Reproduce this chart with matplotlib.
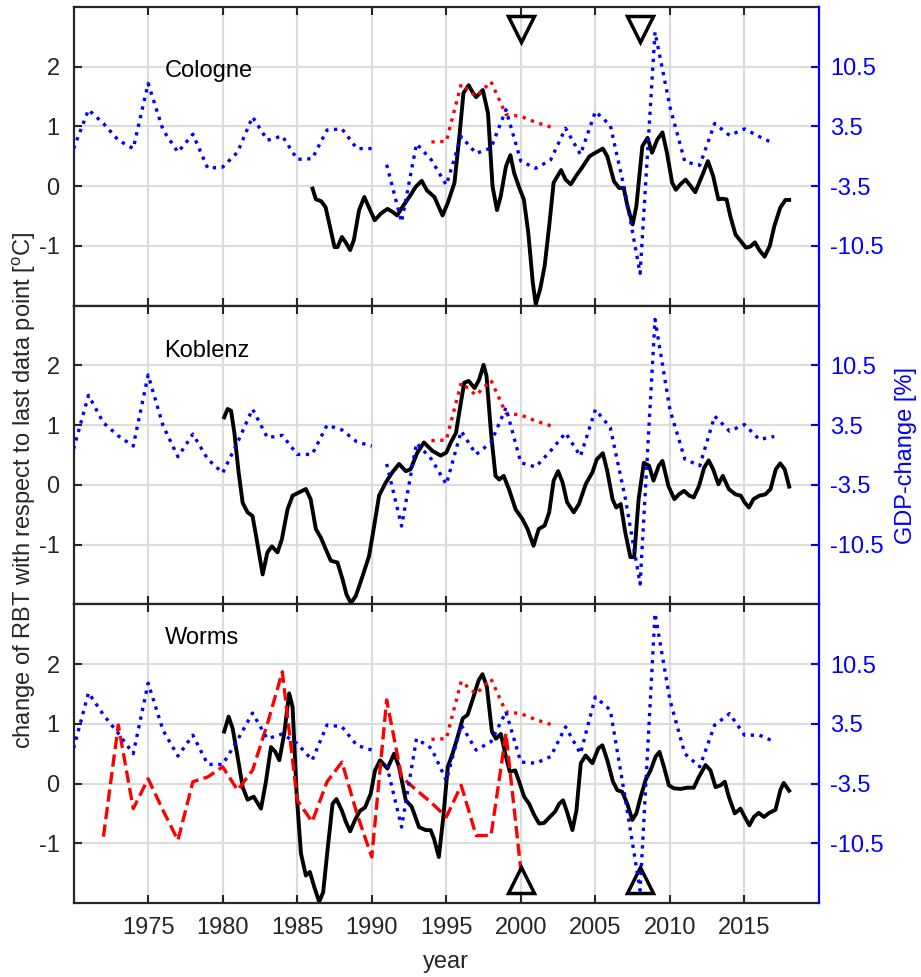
import matplotlib.pyplot as plt
import numpy as np

plt.rcParams['font.family'] = ['Liberation Sans', 'DejaVu Sans']
plt.rcParams['mathtext.default'] = 'regular'
plt.rcParams['axes.unicode_minus'] = False
plt.rcParams['font.size'] = 17

# GDP change [%] per year, right axis (old states until 1990, then unified)
years_west = list(range(1970, 1991))
years_unified = list(range(1991, 2018))

gdp_cologne_west = [0.91, 5.46, 3.85, 1.89, 0.91, 8.54, 3.08, 0.49, 2.59, -1.4, -1.26,
                    0.49, 4.62, 1.89, 2.38, -0.35, -0.28, 3.08, 3.22, 0.91, 0.91]
gdp_cologne_unified = [-0.98, -7.7, 1.47, -0.42, -3.36, 2.31, 0.35, 0.98, 5.46, -0.56,
                       -1.4, -0.42, 3.29, 0.21, 5.25, 3.64, -4.2, -13.72, 14.56, 5.81,
                       -0.63, -1.05, 3.85, 2.45, 3.22, 2.31, 1.47]
gdp_koblenz_west = [0.7, 7.0, 3.78, 2.24, 1.05, 9.38, 3.43, -0.21, 2.45, -0.49, -2.1,
                    1.47, 5.39, 2.03, 2.31, 0.07, 0.07, 3.5, 2.94, 1.54, 1.05]
gdp_koblenz_unified = [-1.05, -8.33, 1.4, -0.49, -3.43, 2.8, 0.07, 1.47, 5.53, -0.91,
                       -1.4, 0.49, 2.59, -0.14, 5.32, 3.22, -5.0, -15.12, 15.89, 5.32,
                       -0.49, -1.26, 4.55, 2.8, 3.57, 1.82, 2.17]
gdp_worms_west = [0.63, 7.14, 4.55, 2.38, 0.0, 8.26, 2.73, -0.28, 2.17, -1.26, -1.26,
                  1.61, 4.76, 1.75, 2.31, 1.19, -0.77, 3.36, 3.15, 0.98, 0.42]
gdp_worms_unified = [-1.33, -8.61, 1.75, 0.63, -3.15, 3.36, 0.42, 1.4, 4.9, -0.98,
                     -1.12, -0.35, 3.15, 0.0, 6.65, 5.11, -5.2, -16.03, 16.45, 6.3,
                     0.0, -1.54, 3.36, 4.69, 2.17, 2.17, 1.4]

# red dotted series (same in all panels)
red_dot_years = list(range(1994, 2003))
red_dot = [0.74, 0.75, 1.71, 1.5, 1.75, 1.2, 1.17, 1.07, 0.99]

# red dashed series, Worms only
red_dash_years = list(range(1972, 2001))
red_dash = [-0.89, 0.98, -0.42, 0.08, -0.45, -0.95, 0.03, 0.11, 0.28, -0.11, 0.22,
            1.0, 1.87, -0.28, -0.64, 0.03, 0.36, -0.5, -1.23, 1.4, 0.11, -0.11,
            -0.32, -0.56, -0.03, -0.87, -0.87, 0.84, -1.45]

# change of RBT [oC], black solid
cologne_t = [1986.03, 1986.25, 1986.6, 1986.9, 1987.2, 1987.5, 1987.7, 1988.0, 1988.3,
             1988.55, 1988.8, 1989.15, 1989.5, 1989.8, 1990.2, 1990.6, 1991.05, 1991.4,
             1991.7, 1992.05, 1992.6, 1992.95, 1993.35, 1993.7, 1994.2, 1994.75, 1995.1,
             1995.55, 1995.9, 1996.15, 1996.5, 1996.75, 1997.0, 1997.45, 1997.8, 1998.1,
             1998.4, 1998.65, 1999.0, 1999.3, 1999.55, 1999.9, 2000.2, 2000.5, 2000.8,
             2001.0, 2001.3, 2001.6, 2001.9, 2002.2, 2002.7, 2003.0, 2003.35, 2003.7,
             2004.1, 2004.6, 2005.0, 2005.5, 2005.8, 2006.25, 2006.6, 2006.9, 2007.15,
             2007.5, 2007.75, 2008.15, 2008.5, 2008.8, 2009.15, 2009.5, 2009.8, 2010.15,
             2010.4, 2010.7, 2011.05, 2011.4, 2011.7, 2012.15, 2012.55, 2012.9, 2013.25,
             2013.5, 2013.8, 2014.05, 2014.4, 2014.75, 2015.1, 2015.4, 2015.7, 2016.0,
             2016.35, 2016.7, 2017.0, 2017.4, 2017.75, 2018.0]
cologne_v = [-0.04, -0.22, -0.25, -0.35, -0.68, -1.02, -1.02, -0.85, -0.96,
             -1.07, -0.9, -0.4, -0.18, -0.35, -0.57, -0.46, -0.38, -0.43,
             -0.49, -0.35, -0.15, -0.01, 0.09, -0.07, -0.18, -0.49, -0.28,
             0.06, 0.89, 1.56, 1.69, 1.58, 1.49, 1.61, 1.22, 0.0,
             -0.4, -0.17, 0.33, 0.52, 0.22, -0.03, -0.22, -0.78, -1.61,
             -1.98, -1.72, -1.33, -0.67, 0.06, 0.27, 0.11, 0.03, 0.17,
             0.31, 0.5, 0.56, 0.63, 0.5, 0.08, -0.03, -0.03, -0.33,
             -0.64, -0.33, 0.67, 0.81, 0.56, 0.78, 0.9, 0.56, 0.06,
             -0.06, 0.03, 0.11, 0.0, -0.1, 0.17, 0.42, 0.17, -0.22,
             -0.21, -0.22, -0.5, -0.81, -0.92, -1.03, -1.01, -0.94, -1.07,
             -1.18, -1.0, -0.67, -0.36, -0.23, -0.23]

koblenz_t = [1980.1, 1980.33, 1980.56, 1980.78, 1981.07, 1981.34, 1981.67, 1982.0, 1982.28,
             1982.68, 1983.0, 1983.3, 1983.68, 1983.97, 1984.35, 1984.69, 1985.09, 1985.58,
             1985.9, 1986.25, 1986.58, 1986.92, 1987.25, 1987.7, 1988.04, 1988.3, 1988.6,
             1988.93, 1989.38, 1989.82, 1990.16, 1990.49, 1990.94, 1991.38, 1991.83, 1992.28,
             1992.6, 1993.06, 1993.5, 1994.06, 1994.62, 1995.0, 1995.3, 1995.65, 1995.9,
             1996.2, 1996.5, 1996.9, 1997.2, 1997.5, 1997.7, 1998.0, 1998.3, 1998.55,
             1998.85, 1999.2, 1999.65, 2000.1, 2000.45, 2000.85, 2001.2, 2001.6, 2001.9,
             2002.2, 2002.5, 2002.8, 2003.1, 2003.55, 2003.9, 2004.35, 2004.8, 2005.1,
             2005.5, 2005.8, 2006.15, 2006.4, 2006.7, 2007.0, 2007.35, 2007.6, 2007.9,
             2008.25, 2008.6, 2008.9, 2009.25, 2009.5, 2009.9, 2010.3, 2010.6, 2010.95,
             2011.3, 2011.6, 2011.95, 2012.3, 2012.6, 2012.9, 2013.25, 2013.55, 2013.95,
             2014.4, 2014.75, 2015.0, 2015.3, 2015.6, 2016.0, 2016.4, 2016.75, 2017.1,
             2017.4, 2017.7, 2018.0]
koblenz_v = [1.13, 1.27, 1.24, 0.88, 0.21, -0.3, -0.46, -0.52, -0.91,
             -1.5, -1.13, -1.03, -1.13, -0.91, -0.41, -0.18, -0.13, -0.07,
             -0.24, -0.74, -0.88, -1.08, -1.27, -1.3, -1.58, -1.83, -1.98,
             -1.86, -1.53, -1.19, -0.69, -0.18, 0.04, 0.21, 0.35, 0.23,
             0.26, 0.54, 0.71, 0.57, 0.49, 0.54, 0.71, 0.87, 1.26,
             1.71, 1.74, 1.62, 1.76, 2.01, 1.82, 0.87, 0.15, 0.09,
             0.15, -0.07, -0.41, -0.57, -0.74, -1.02, -0.74, -0.68, -0.46,
             0.07, 0.23, 0.04, -0.29, -0.46, -0.32, 0.01, 0.21, 0.43,
             0.53, 0.23, -0.24, -0.38, -0.32, -0.79, -1.21, -1.21, -0.24,
             0.37, 0.32, 0.07, 0.32, 0.4, -0.02, -0.24, -0.16, -0.1,
             -0.18, -0.21, -0.02, 0.29, 0.41, 0.26, 0.01, 0.15, -0.07,
             -0.16, -0.18, -0.29, -0.38, -0.24, -0.18, -0.16, -0.07, 0.26,
             0.36, 0.26, -0.03]

worms_t = [1980.1, 1980.4, 1980.67, 1981.0, 1981.34, 1981.67, 1982.08, 1982.57, 1982.9,
           1983.24, 1983.53, 1983.8, 1984.13, 1984.46, 1984.69, 1984.96, 1985.25, 1985.58,
           1985.85, 1986.14, 1986.47, 1986.74, 1987.03, 1987.37, 1987.63, 1987.99, 1988.26,
           1988.55, 1988.88, 1989.2, 1989.55, 1989.93, 1990.22, 1990.56, 1991.05, 1991.5,
           1991.83, 1992.28, 1992.68, 1993.17, 1993.62, 1993.95, 1994.17, 1994.5, 1994.8,
           1995.1, 1995.42, 1995.76, 1996.1, 1996.43, 1996.76, 1997.17, 1997.43, 1997.72,
           1998.06, 1998.33, 1998.66, 1999.0, 1999.26, 1999.62, 1999.89, 2000.22, 2000.56,
           2000.9, 2001.23, 2001.56, 2001.94, 2002.3, 2002.57, 2002.83, 2003.13, 2003.46,
           2003.73, 2004.02, 2004.35, 2004.8, 2005.2, 2005.47, 2005.8, 2006.18, 2006.47,
           2006.8, 2007.14, 2007.48, 2007.75, 2008.04, 2008.37, 2008.7, 2009.04, 2009.3,
           2009.6, 2009.93, 2010.27, 2010.71, 2011.16, 2011.6, 2011.94, 2012.39, 2012.72,
           2013.06, 2013.39, 2013.68, 2013.95, 2014.35, 2014.73, 2015.02, 2015.33, 2015.63,
           2015.96, 2016.3, 2016.67, 2017.08, 2017.41, 2017.63, 2018.0]
worms_v = [0.87, 1.12, 0.92, 0.45, -0.06, -0.27, -0.22, -0.42, 0.03,
           0.61, 0.53, 0.39, 0.84, 1.51, 1.28, -0.17, -1.17, -1.54,
           -1.48, -1.73, -1.98, -1.82, -1.12, -0.34, -0.26, -0.45, -0.64,
           -0.8, -0.61, -0.46, -0.4, -0.17, 0.22, 0.39, 0.25, 0.5,
           0.28, -0.28, -0.39, -0.73, -0.78, -0.78, -0.92, -1.23, -0.56,
           0.28, 0.5, 0.78, 1.09, 1.15, 1.4, 1.73, 1.83, 1.62,
           0.87, 0.75, 0.83, 0.45, 0.2, 0.22, 0.03, -0.22, -0.34,
           -0.53, -0.67, -0.66, -0.56, -0.47, -0.34, -0.28, -0.5, -0.78,
           -0.45, 0.34, 0.47, 0.34, 0.59, 0.64, 0.39, 0.03, -0.11,
           -0.14, -0.34, -0.61, -0.5, -0.22, 0.06, 0.22, 0.45, 0.53,
           0.28, -0.03, -0.08, -0.09, -0.07, -0.07, 0.11, 0.31, 0.22,
           -0.06, -0.03, 0.03, -0.22, -0.5, -0.42, -0.56, -0.7, -0.56,
           -0.49, -0.56, -0.49, -0.44, -0.11, 0.01, -0.12]

event_years = [2000, 2008]

panels = [
    ('Cologne', 1.83, cologne_t, cologne_v, gdp_cologne_west, gdp_cologne_unified),
    ('Koblenz', 2.14, koblenz_t, koblenz_v, gdp_koblenz_west, gdp_koblenz_unified),
    ('Worms', 2.335, worms_t, worms_v, gdp_worms_west, gdp_worms_unified),
]

W, H = 921, 977
fig = plt.figure(figsize=(W / 100, H / 100), dpi=100)

left = 73.6 / W
width = (819 - 73.6) / W
ph = (903 - 7) / 3 / H
bottom0 = 1 - 903 / H

for i, (name, ytxt, t, v, g_west, g_uni) in enumerate(panels):
    ax = fig.add_axes([left, bottom0 + (2 - i) * ph, width, ph])
    ax.set_xlim(1970, 2020)
    ax.set_ylim(-2, 3)
    ax.set_xticks(range(1975, 2020, 5))
    ax.set_yticks([-1, 0, 1, 2])
    ax.grid(True, color='#dcdcdc', lw=1.6)
    ax.set_axisbelow(True)
    ax.tick_params(direction='in', length=6, width=1.5, top=True, right=False,
                   labelsize=17, colors='#262626', pad=10)
    ax.tick_params(axis='y', pad=10)
    if i < 2:
        ax.tick_params(labelbottom=False)
    for s in ['left', 'top', 'bottom']:
        ax.spines[s].set_linewidth(1.6)
        ax.spines[s].set_color('#262626')
    ax.spines['right'].set_visible(False)

    ax.plot(t, v, '-', color='k', lw=2.8, solid_joinstyle='round')
    ax.plot(red_dot_years, red_dot, ':', color='#ff0000', lw=2.4)
    if name == 'Worms':
        ax.plot(red_dash_years, red_dash, '--', color='#ff0000', lw=2.4)
        ax.plot(event_years, [-1.62, -1.62], '^', ms=19, mfc='none', mec='k',
                mew=2.5, clip_on=False, zorder=5)
    if name == 'Cologne':
        ax.plot(event_years, [2.63, 2.63], 'v', ms=19, mfc='none', mec='k',
                mew=2.5, clip_on=False, zorder=5)
    ax.text(1976.1, ytxt, name, fontsize=17, color='k', va='baseline')

    ax2 = ax.twinx()
    ax2.set_ylim(-17.5, 17.5)
    ax2.set_yticks([-10.5, -3.5, 3.5, 10.5])
    ax2.plot(years_west, g_west, ':', color='#0000ff', lw=2.4)
    ax2.plot(years_unified, g_uni, ':', color='#0000ff', lw=2.4)
    ax2.tick_params(direction='in', length=6, width=1.5, colors='#0000ff',
                    labelsize=17, pad=8)
    for s in ['left', 'top', 'bottom']:
        ax2.spines[s].set_visible(False)
    ax2.spines['right'].set_color('#0000ff')
    ax2.spines['right'].set_linewidth(1.6)
    if name == 'Koblenz':
        ax2.set_ylabel('GDP-change [%]', color='#0000ff', fontsize=17, labelpad=8)

fig.text(24 / W, 1 - 490 / H, r'change of RBT with respect to last data point [$^{o}$C]',
         rotation=90, ha='center', va='center', fontsize=17, color='#262626')
fig.text(446 / W, 1 - 962 / H, 'year', ha='center', va='center', fontsize=17,
         color='#262626')

fig.savefig('out.png', dpi=100)
